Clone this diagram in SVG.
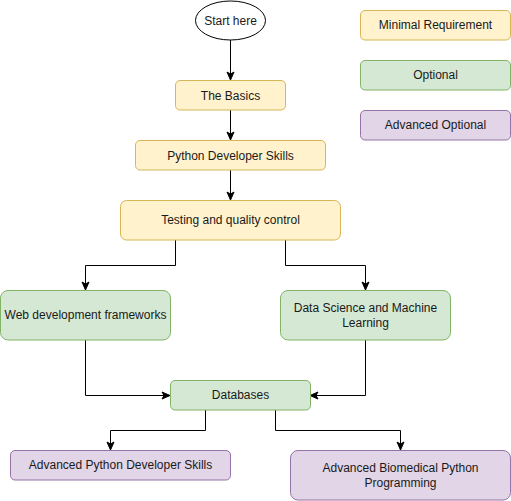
<svg xmlns="http://www.w3.org/2000/svg" width="511" height="501" viewBox="0 0 511 501">
<defs>
<style>
.req{fill:#fff2cc;stroke:#d6b656;stroke-width:1}
.opt{fill:#d5e8d4;stroke:#82b366;stroke-width:1}
.adv{fill:#e1d5e7;stroke:#9673a6;stroke-width:1}
.start{fill:#ffffff;stroke:#000000;stroke-width:1}
text{font-family:"Liberation Sans",Arial,sans-serif;font-size:12px;fill:#1a1a1a;text-anchor:middle;dominant-baseline:central}
.conn{fill:none;stroke:#000000;stroke-width:1;marker-end:url(#arr)}
</style>
<marker id="arr" markerUnits="userSpaceOnUse" markerWidth="10" markerHeight="10" viewBox="0 0 10 10" refX="9" refY="5" orient="auto">
<path d="M1,1.5 L9,5 L1,8.5 L3,5 Z" fill="#000000" stroke="#000000" stroke-width="1"/>
</marker>
</defs>
<rect width="511" height="501" fill="#ffffff"/>
<g id="connectors">
<path class="conn" d="M230.5,40 L230.5,80"/>
<path class="conn" d="M230.5,110 L230.5,140"/>
<path class="conn" d="M230.5,170 L230.5,200"/>
<path class="conn" d="M175.5,240 L175.5,265.5 L85.5,265.5 L85.5,290"/>
<path class="conn" d="M285.5,240 L285.5,265.5 L365.5,265.5 L365.5,290"/>
<path class="conn" d="M85.5,340 L85.5,395.5 L170,395.5"/>
<path class="conn" d="M365.5,340 L365.5,395.5 L310,395.5"/>
<path class="conn" d="M205.5,410 L205.5,430.5 L110.5,430.5 L110.5,450"/>
<path class="conn" d="M275.5,410 L275.5,430.5 L400.5,430.5 L400.5,450"/>
</g>
<g id="start">
<ellipse class="start" cx="230.5" cy="20.5" rx="35" ry="19.5"/>
<text x="230.5" y="20.5">Start here</text>
</g>
<g id="basics">
<rect class="req" x="175.5" y="80.5" width="110" height="29.5" rx="4.5"/>
<text x="230.5" y="95.5">The Basics</text>
</g>
<g id="pydev">
<rect class="req" x="135.5" y="140.5" width="190" height="29.5" rx="4.5"/>
<text x="230.5" y="155.5">Python Developer Skills</text>
</g>
<g id="testing">
<rect class="req" x="120.5" y="200.5" width="220" height="39.5" rx="6"/>
<text x="230.5" y="220">Testing and quality control</text>
</g>
<g id="webdev">
<rect class="opt" x="0.5" y="290.5" width="170" height="49.5" rx="7.5"/>
<text x="85.5" y="314.5">Web development frameworks</text>
</g>
<g id="datasci">
<rect class="opt" x="280.5" y="290.5" width="170" height="49.5" rx="7.5"/>
<text x="365.5" y="307.5">Data Science and Machine</text>
<text x="365.5" y="322.5">Learning</text>
</g>
<g id="databases">
<rect class="opt" x="170.5" y="380.5" width="140" height="29.5" rx="4.5"/>
<text x="240.5" y="395">Databases</text>
</g>
<g id="advpydev">
<rect class="adv" x="10.5" y="450.5" width="220" height="29.5" rx="4.5"/>
<text x="120.5" y="465">Advanced Python Developer Skills</text>
</g>
<g id="advbio">
<rect class="adv" x="290.5" y="450.5" width="220" height="49.5" rx="7.5"/>
<text x="400.5" y="467.5">Advanced Biomedical Python</text>
<text x="400.5" y="482.5">Programming</text>
</g>
<g id="legend-minimal">
<rect class="req" x="360.5" y="10.5" width="150" height="29.5" rx="4.5"/>
<text x="435.5" y="25">Minimal Requirement</text>
</g>
<g id="legend-optional">
<rect class="opt" x="360.5" y="60.5" width="150" height="29.5" rx="4.5"/>
<text x="435.5" y="75">Optional</text>
</g>
<g id="legend-advanced">
<rect class="adv" x="360.5" y="110.5" width="150" height="29.5" rx="4.5"/>
<text x="435.5" y="125">Advanced Optional</text>
</g>
</svg>
